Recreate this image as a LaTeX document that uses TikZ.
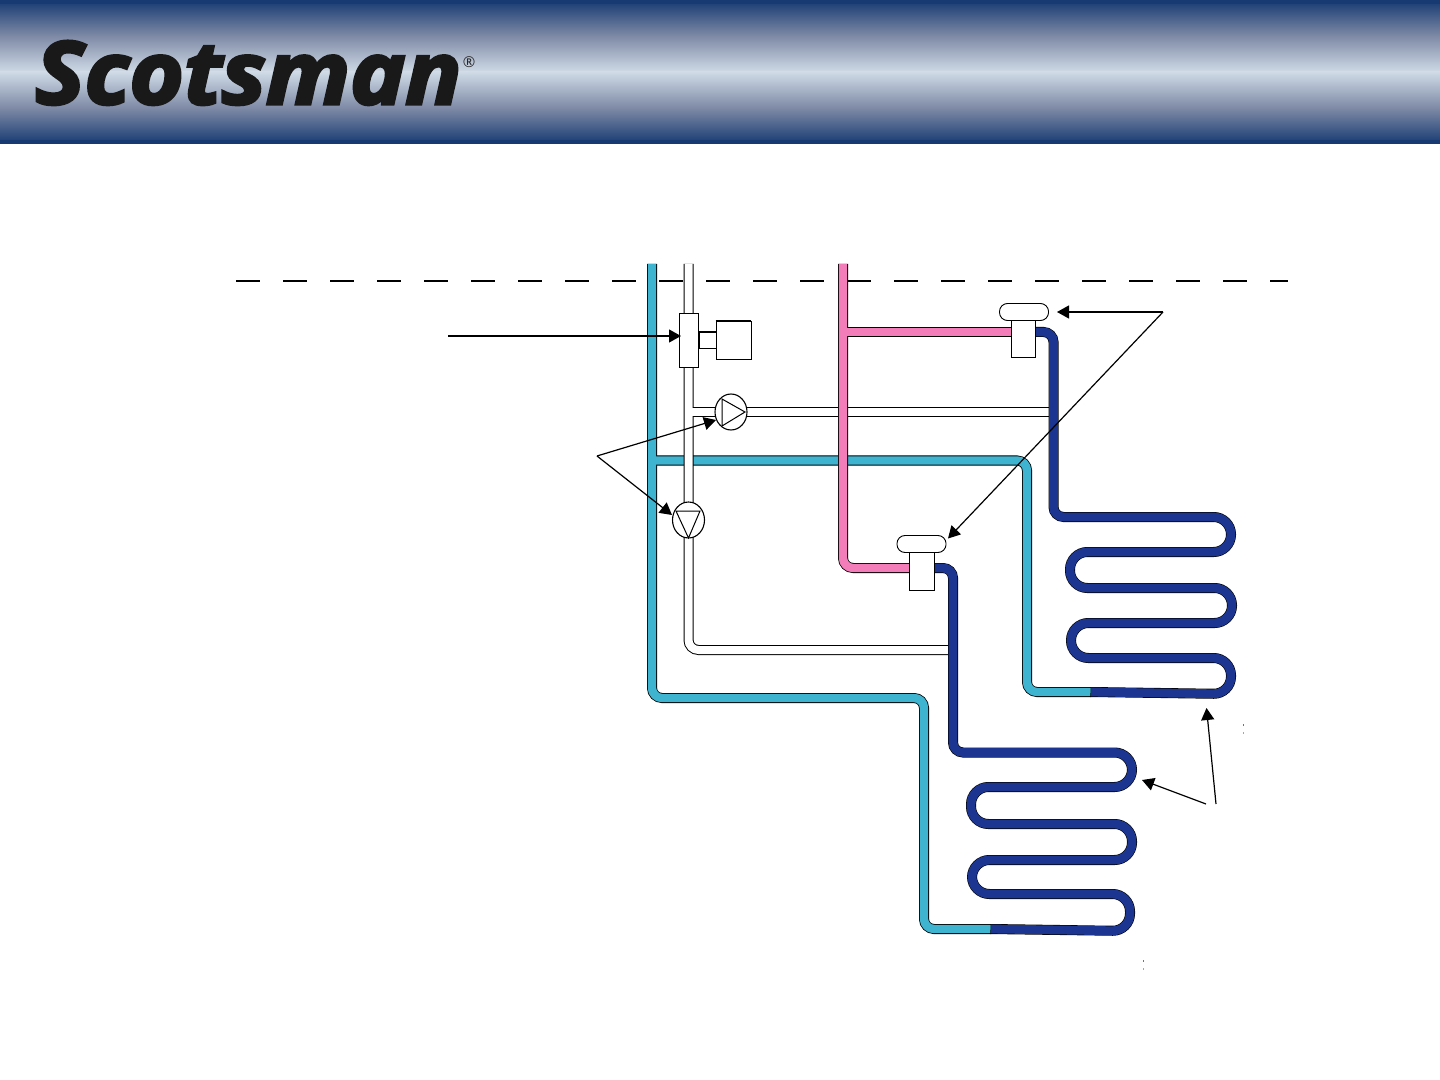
\documentclass[tikz,border=0pt]{standalone}
\usepackage{fontspec}
\usepackage{graphicx}
\usetikzlibrary{arrows.meta,shapes.geometric}
\newfontfamily\logofont{Open Sans}[BoldItalicFeatures={FakeBold=3.5}]
\newfontfamily\regfont{Open Sans}
\definecolor{bannerdark}{HTML}{173A72}
\definecolor{bannermid}{HTML}{7E8AA6}
\definecolor{bannerlight}{HTML}{CFDAE6}
\definecolor{pipecyan}{HTML}{3FB4D0}
\definecolor{pipepink}{HTML}{F27DB8}
\definecolor{pipenavy}{HTML}{1C3591}
\newcommand{\twopass}[3]{%
  \foreach \pth in {#3}{\draw[pipeedge,#2] \pth;}%
  \foreach \pth in {#3}{\draw[#1,#2] \pth;}%
}
\tikzset{
  pipeedge/.style={draw=black,line width=5pt},
  cyanfill/.style={draw=pipecyan,line width=4.2pt},
  pinkfill/.style={draw=pipepink,line width=4.2pt},
  navyfill/.style={draw=pipenavy,line width=4.4pt},
  whitefill/.style={draw=white,line width=4pt},
  elbow/.style={rounded corners=5pt},
  partbox/.style={draw=black,fill=white,line width=0.45pt,minimum width=0pt,inner sep=0pt},
  capsule/.style={draw=black,fill=white,line width=0.45pt,rounded corners=4pt,inner sep=0pt},
  pumpbody/.style={ellipse,draw=black,fill=white,line width=0.55pt,minimum width=16pt,minimum height=18pt,inner sep=0pt},
  pointer/.style={draw=black,line width=0.6pt,-{Triangle[length=6pt,width=6.5pt]}},
}
\begin{document}
\begin{tikzpicture}[x=0.5pt,y=-0.5pt]
\useasboundingbox (0,0) rectangle (1440,1080);
% banner
\shade[top color=bannerdark,bottom color=bannerlight,middle color=bannermid,shading angle=0] (0,0) rectangle (1440,72);
\shade[top color=bannerlight,bottom color=bannerdark,middle color=bannermid,shading angle=0] (0,72) rectangle (1440,144);
\fill[bannerdark] (0,0) rectangle (1440,4);
\fill[bannerdark] (0,140) rectangle (1440,144);
\node[anchor=base west,inner sep=0pt,text=black!90] (logo) at (35,104)
  {\resizebox{213pt}{31.5pt}{\logofont\bfseries\itshape Scotsman}};
\node[anchor=center,inner sep=0pt,text=black!85,font=\regfont\fontsize{7.5}{7.5}\selectfont] (reg) at (469,62) {®};
% dashed line
\coordinate (dashL) at (236,281);
\coordinate (dashR) at (1288,281);
\draw[black,line width=1pt,dash pattern=on 12pt off 11.5pt] (dashL) -- (dashR);
% cyan lines
\twopass{cyanfill}{elbow}{{(652,264) -- (652,698) -- (924,698) -- (924,929) -- (991,929)},{(652,460.5) -- (1027,460.5) -- (1027,692) -- (1091,692)}}
% white lines
\twopass{whitefill}{elbow}{{(688.5,264) -- (688.5,650) -- (948,650)},{(688.5,412) -- (1050,412)}}
% pink lines
\twopass{pinkfill}{elbow}{{(843,264) -- (843,568) -- (912,568)},{(843,332) -- (1014,332)}}
% navy lines and coils
\draw[pipeedge] (1036,332) [rounded corners=5pt] -- (1053.5,332) -- (1053.5,517) [rounded corners=6pt] -- (1095,517) [rounded corners=8.7pt] -- (1231,517) -- (1231,552) -- (1070,552) -- (1070,588) -- (1232,588) -- (1232,623) -- (1071,623) -- (1071,658) -- (1231,658) -- (1231,694) -- (1090.5,692);
\draw[pipeedge] (935,568) [rounded corners=5pt] -- (953,568) -- (953,752.5) [rounded corners=6pt] -- (1000,752.5) [rounded corners=8.7pt] -- (1132,752.5) -- (1132,787) -- (971,787) -- (971,824) -- (1132,824) -- (1132,860) -- (972,860) -- (972,894) -- (1130,894) -- (1130,931) -- (990.5,929);
\draw[navyfill] (1036,332) [rounded corners=5pt] -- (1053.5,332) -- (1053.5,517) [rounded corners=6pt] -- (1095,517) [rounded corners=8.7pt] -- (1231,517) -- (1231,552) -- (1070,552) -- (1070,588) -- (1232,588) -- (1232,623) -- (1071,623) -- (1071,658) -- (1231,658) -- (1231,694) -- (1091,692);
\draw[navyfill] (935,568) [rounded corners=5pt] -- (953,568) -- (953,752.5) [rounded corners=6pt] -- (1000,752.5) [rounded corners=8.7pt] -- (1132,752.5) -- (1132,787) -- (971,787) -- (971,824) -- (1132,824) -- (1132,860) -- (972,860) -- (972,894) -- (1130,894) -- (1130,931) -- (991,929);
% solenoid valve block
\node[partbox,minimum width=9.5pt,minimum height=27pt] (block) at (688.5,340) {};
\node[partbox,minimum width=8.5pt,minimum height=8pt] (stem) at (707.5,340) {};
\node[partbox,minimum width=17.5pt,minimum height=19pt] (motor) at (733.5,340) {};
\draw[black,line width=0.9pt] (motor.north west) -- (motor.north east) (stem.north west) -- (stem.north east);
% pumps
\node[pumpbody] (pumpA) at (731,412) {};
\draw[black,line width=0.5pt] (722,399) -- (745,412) -- (722,426) -- cycle;
\node[pumpbody] (pumpB) at (688.5,520) {};
\draw[black,line width=0.5pt] (676,511) -- (700,511) -- (688.5,538) -- cycle;
% expansion valves
\node[partbox,minimum width=12pt,minimum height=18.5pt] (tevA) at (1023.5,338.5) {};
\node[capsule,minimum width=24.5pt,minimum height=8.5pt] (capA) at (1024,312) {};
\node[partbox,minimum width=12.5pt,minimum height=19pt] (tevB) at (921.5,571) {};
\node[capsule,minimum width=24.5pt,minimum height=8.5pt] (capB) at (921.5,544) {};
% pointers
\coordinate (ptrBlockFrom) at (448,336);
\coordinate (ptrBlockTo) at (681,336);
\draw[pointer] (ptrBlockFrom) -- (ptrBlockTo);
\coordinate (forkPump) at (597,456);
\coordinate (toPumpA) at (716,420);
\coordinate (toPumpB) at (672,515);
\draw[pointer] (forkPump) -- (toPumpA);
\draw[pointer] (forkPump) -- (toPumpB);
\coordinate (forkTev) at (1163,312);
\coordinate (toCapA) at (1057,312);
\coordinate (toCapB) at (948,538.5);
\draw[pointer] (forkTev) -- (toCapA);
\draw[pointer] (forkTev) -- (toCapB);
\coordinate (forkCoilA) at (1216,804);
\coordinate (forkCoilB) at (1206,804);
\coordinate (toCoilA) at (1206.5,708);
\coordinate (toCoilB) at (1142,780);
\draw[pointer] (forkCoilA) -- (toCoilA);
\draw[pointer] (forkCoilB) -- (toCoilB);
% specks
\fill[black!55] (1242.5,724) rectangle (1243.5,725.5);
\fill[black!35] (1242.5,732) rectangle (1243.5,733.5);
\fill[black!55] (1142.5,960) rectangle (1143.5,961.5);
\fill[black!35] (1142.5,968) rectangle (1143.5,969.5);
\end{tikzpicture}
\end{document}
